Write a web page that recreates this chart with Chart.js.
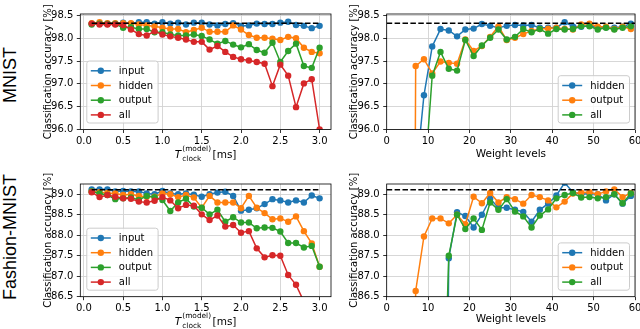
<!DOCTYPE html>
<html>
<head>
<meta charset="utf-8">
<script src="https://cdn.jsdelivr.net/npm/chart.js@4"></script>
<style>
html, body { margin: 0; padding: 0; background: #fff; }
#fig { position: relative; width: 640px; height: 329px; overflow: hidden; background: #fff; }
canvas { position: absolute; }
.row { position: absolute; font-family: "Liberation Sans", Arial, sans-serif; font-size: 18px;
       white-space: nowrap; transform: translate(-50%, -50%) rotate(-90deg); color: #000; }
</style>
</head>
<body>
<div id="fig">
  <div class="row" style="left:10px; top:75px">MNIST</div>
  <div class="row" style="left:10px; top:236.5px">Fashion-MNIST</div>
  <canvas id="mnist-clock" width="302" height="164" style="left:38px; top:0px"></canvas>
  <canvas id="mnist-levels" width="310" height="164" style="left:340px; top:0px"></canvas>
  <canvas id="fashion-clock" width="302" height="165" style="left:38px; top:164px"></canvas>
  <canvas id="fashion-levels" width="310" height="165" style="left:340px; top:164px"></canvas>
</div>
<script>
// ---------------------------------------------------------------------------
// Data
// ---------------------------------------------------------------------------

const clockTimes = [0.1, 0.2, 0.3, 0.4, 0.5, 0.6, 0.7, 0.8, 0.9, 1.0,
                    1.1, 1.2, 1.3, 1.4, 1.5, 1.6, 1.7, 1.8, 1.9, 2.0,
                    2.1, 2.2, 2.3, 2.4, 2.5, 2.6, 2.7, 2.8, 2.9, 3.0];
const weightLevels = [5, 7, 9, 11, 13, 15, 17, 19, 21, 23, 25, 27, 29, 31,
                      33, 35, 37, 39, 41, 43, 45, 47, 49, 51, 53, 55, 57, 59];

const clockTicks = [0.0, 0.5, 1.0, 1.5, 2.0, 2.5, 3.0];
const levelTicks = [0, 10, 20, 30, 40, 50, 60];
const mnistTicks = [96.0, 96.5, 97.0, 97.5, 98.0, 98.5];
const fashionTicks = [86.5, 87.0, 87.5, 88.0, 88.5, 89.0];

// reference accuracy (dashed line) and its extent
const mnistBaseline = 98.33;
const fashionBaseline = 89.11;
const clockBaselineX = [0.1, 3.0];
const levelBaselineX = [0, 60];

// MNIST vs clock period
const mnistClockInput = [98.32, 98.32, 98.32, 98.32, 98.34, 98.32, 98.35, 98.35, 98.32, 98.35,
                         98.32, 98.34, 98.30, 98.34, 98.34, 98.30, 98.28, 98.31, 98.33, 98.27,
                         98.28, 98.32, 98.31, 98.31, 98.34, 98.36, 98.29, 98.27, 98.22, 98.27];
const mnistClockHidden = [98.33, 98.35, 98.33, 98.33, 98.33, 98.33, 98.30, 98.28, 98.26, 98.23,
                          98.20, 98.20, 98.13, 98.18, 98.23, 98.14, 98.14, 98.14, 98.28, 98.19,
                          98.07, 98.01, 98.01, 97.99, 97.96, 98.03, 98.00, 97.79, 97.70, 97.67];
const mnistClockOutput = [98.30, 98.32, 98.31, 98.31, 98.23, 98.24, 98.20, 98.20, 98.13, 98.13,
                          98.08, 98.06, 98.06, 98.08, 98.05, 97.97, 97.88, 97.94, 97.86, 97.80,
                          97.87, 97.74, 97.68, 97.90, 97.48, 97.72, 97.88, 97.39, 97.35, 97.79];
const mnistClockAll = [98.32, 98.30, 98.30, 98.30, 98.29, 98.19, 98.09, 98.06, 98.15, 98.08,
                       98.04, 98.01, 97.97, 97.92, 97.92, 97.75, 97.83, 97.70, 97.59, 97.54,
                       97.51, 97.48, 97.44, 96.95, 97.42, 97.18, 96.49, 97.01, 97.10, 96.00];

// MNIST vs weight levels
const mnistLevelHidden = [null, 94.9, 96.75, 97.82, 98.20, 98.17, 98.04, 98.19, 98.21, 98.31,
                          98.27, 98.23, 98.27, 98.29, 98.28, 98.29, 98.23, 98.23, 98.23, 98.35,
                          98.26, 98.25, 98.28, 98.23, 98.24, 98.23, 98.25, 98.32];
const mnistLevelOutput = [60.0, 97.39, 97.54, 97.23, 97.49, 97.46, 97.44, 97.97, 97.72, 97.83,
                          98.03, 98.26, 97.96, 98.01, 98.09, 98.16, 98.20, 98.21, 98.23, 98.20,
                          98.19, 98.30, 98.32, 98.25, 98.25, 98.20, 98.25, 98.20];
const mnistLevelAll = [null, null, 94.7, 97.18, 97.70, 97.33, 97.29, 97.96, 97.61, 97.84,
                       98.01, 98.19, 97.97, 98.03, 98.20, 98.13, 98.20, 98.10, 98.20, 98.19,
                       98.20, 98.26, 98.26, 98.19, 98.23, 98.19, 98.23, 98.26];

// Fashion-MNIST vs clock period
const fashionClockInput = [89.12, 89.12, 89.12, 89.07, 89.08, 89.07, 89.07, 89.02, 89.00, 89.08,
                           89.02, 89.00, 89.02, 88.99, 88.94, 89.00, 89.04, 89.06, 88.96, 88.60,
                           88.62, 88.66, 88.76, 88.88, 88.85, 88.80, 88.85, 88.80, 88.97, 88.90];
const fashionClockHidden = [89.07, 89.05, 89.03, 89.02, 88.98, 89.00, 88.96, 88.94, 88.94, 89.02,
                            89.00, 88.93, 88.98, 88.92, 88.67, 88.96, 88.80, 88.80, 88.80, 88.66,
                            88.96, 88.67, 88.54, 88.39, 88.41, 88.33, 88.46, 88.10, 87.80, 87.23];
const fashionClockOutput = [89.07, 89.02, 88.98, 88.88, 88.90, 88.92, 88.86, 88.96, 88.93, 88.86,
                            88.59, 88.80, 88.89, 88.70, 88.67, 88.51, 88.62, 88.33, 88.44, 88.31,
                            88.31, 88.17, 88.19, 88.18, 88.09, 87.81, 87.81, 87.70, 87.74, 87.23];
const fashionClockAll = [89.05, 88.93, 88.98, 88.94, 88.90, 88.89, 88.82, 88.80, 88.84, 88.93,
                         88.85, 88.66, 88.74, 88.72, 88.51, 88.37, 88.48, 88.21, 88.25, 88.06,
                         88.10, 87.68, 87.46, 87.51, 87.50, 87.03, 86.79, 86.38, null, null];

// Fashion-MNIST vs weight levels
const fashionLevelHidden = [null, null, null, null, 68.0, 87.44, 88.56, 88.47, 88.19, 88.50,
                            88.89, 88.67, 88.67, 88.62, 88.57, 88.33, 88.62, 88.77, 88.97, 89.28,
                            89.05, 89.00, 89.02, 89.00, 88.85, 89.00, 88.77, 88.96];
const fashionLevelOutput = [70.0, 86.64, 87.97, 88.41, 88.41, 88.29, 88.50, 88.27, 88.94, 88.78,
                            89.03, 88.80, 88.93, 88.88, 88.77, 88.98, 88.93, 88.85, 88.68, 88.82,
                            89.02, 89.04, 89.05, 89.00, 89.07, 89.12, 88.93, 89.03];
const fashionLevelAll = [null, null, null, null, 80.8, 87.50, 88.50, 88.15, 88.41, 88.13,
                         88.80, 88.62, 88.88, 88.58, 88.46, 88.19, 88.48, 88.63, 88.90, 88.98,
                         89.03, 88.92, 88.93, 88.90, 88.93, 89.00, 88.78, 89.02];

// ---------------------------------------------------------------------------
// Styling helpers
// ---------------------------------------------------------------------------

Chart.defaults.font.family = "'DejaVu Sans', sans-serif";
Chart.defaults.font.size = 10;
Chart.defaults.color = '#000';
Chart.defaults.animation = false;

const C_BLUE = '#1f77b4', C_ORANGE = '#ff7f0e', C_GREEN = '#2ca02c', C_RED = '#d62728';
const GRID = '#d2d2d2';

function series(label, color, xs, ys, order) {
    return {
        label,
        data: xs.map((x, i) => ({ x, y: ys[i] })),
        borderColor: color, backgroundColor: color,
        borderWidth: 1.5, pointRadius: 3.2, pointBorderWidth: 0, pointHoverRadius: 3.2,
        tension: 0, clip: 0, order,
    };
}

function baseline(xs, value) {
    return {
        label: 'baseline', inLegend: false,
        data: xs.map(x => ({ x, y: value })),
        borderColor: '#000', borderWidth: 1.5, borderDash: [5.5, 2.4],
        pointRadius: 0, tension: 0, clip: 0, order: 0,
    };
}

// draws the legend box inside the plot, matplotlib style
function drawLegend(chart, corner) {
    const ctx = chart.ctx, a = chart.chartArea;
    const items = chart.data.datasets.filter(d => d.inLegend !== false);
    ctx.save();
    ctx.font = "10px 'DejaVu Sans'";
    const textW = Math.max(...items.map(d => ctx.measureText(d.label).width));
    const rowH = 14.7;
    const w = 32 + textW + 5, h = items.length * rowH + 3.2;
    const left = corner === 'll' ? a.left + 6.5 : a.right - 5.5 - w;
    const top = a.bottom - 6.5 - h;
    ctx.beginPath();
    ctx.roundRect(left, top, w, h, 2.5);
    ctx.fillStyle = 'rgba(255,255,255,0.8)';
    ctx.fill();
    ctx.strokeStyle = '#cccccc';
    ctx.lineWidth = 1;
    ctx.stroke();
    items.forEach((d, i) => {
        const y = top + 9.8 + i * rowH;
        ctx.strokeStyle = d.borderColor;
        ctx.lineWidth = 1.5;
        ctx.beginPath(); ctx.moveTo(left + 4, y); ctx.lineTo(left + 24, y); ctx.stroke();
        ctx.fillStyle = d.borderColor;
        ctx.beginPath(); ctx.arc(left + 14, y, 3.2, 0, 2 * Math.PI); ctx.fill();
        ctx.fillStyle = '#000';
        ctx.textBaseline = 'middle';
        ctx.textAlign = 'left';
        ctx.fillText(d.label, left + 32, y + 0.5);
    });
    ctx.restore();
}

// x label "T_clock^(model) [ms]" with sub/superscript
function drawClockLabel(chart) {
    const ctx = chart.ctx, a = chart.chartArea;
    const cx = (a.left + a.right) / 2, base = a.bottom + 28;
    const big = "10.5px 'DejaVu Sans'", ital = "oblique 10.5px 'DejaVu Sans'", small = "7.4px 'DejaVu Sans'";
    ctx.save();
    ctx.fillStyle = '#000';
    ctx.textBaseline = 'alphabetic';
    ctx.textAlign = 'left';
    ctx.font = ital; const wT = ctx.measureText('T').width;
    ctx.font = small; const wS = Math.max(ctx.measureText('(model)').width, ctx.measureText('clock').width);
    ctx.font = big; const wU = ctx.measureText('[ms]').width;
    let x = cx - (wT + 1 + wS + 1.5 + wU) / 2;
    ctx.font = ital; ctx.fillText('T', x, base); x += wT + 1;
    ctx.font = small;
    ctx.fillText('(model)', x, base - 7);
    ctx.fillText('clock', x, base + 3);
    x += wS + 1.5;
    ctx.font = big; ctx.fillText('[ms]', x, base);
    ctx.restore();
}

const axesPlugin = {
    id: 'axesDeco',
    afterDatasetsDraw(chart) {
        const a = chart.chartArea, ctx = chart.ctx;
        ctx.save();
        ctx.strokeStyle = '#000';
        ctx.lineWidth = 0.8;
        ctx.strokeRect(a.left, a.top, a.right - a.left, a.bottom - a.top);
        ctx.restore();
    },
    afterDraw(chart, args, opts) {
        drawLegend(chart, opts.legend);
        if (opts.clockLabel) drawClockLabel(chart);
    }
};

function makeChart(id, cfg) {
    const fmt1 = v => v.toFixed(1);
    return new Chart(document.getElementById(id), {
        type: 'line',
        data: { datasets: cfg.datasets },
        plugins: [axesPlugin],
        options: {
            responsive: false,
            animation: false,
            events: [],
            layout: { padding: { top: cfg.top, right: cfg.right, left: 0, bottom: 0 } },
            plugins: {
                legend: { display: false },
                tooltip: { enabled: false },
                axesDeco: { legend: cfg.legend, clockLabel: cfg.clockLabel },
            },
            scales: {
                x: {
                    type: 'linear', min: cfg.xMin, max: cfg.xMax,
                    afterBuildTicks: s => { s.ticks = cfg.xTicks.map(v => ({ value: v })); },
                    afterFit: s => { s.height = cfg.xAxisH; },
                    ticks: { callback: cfg.xFmt, padding: 2, maxRotation: 0, autoSkip: false, color: '#000' },
                    grid: { color: GRID, lineWidth: 0.9, tickColor: '#000', tickLength: 3.5, tickWidth: 0.8 },
                    border: { display: false },
                    title: cfg.xTitle
                        ? { display: true, text: cfg.xTitle, font: { size: 10.5 }, padding: { top: 0, bottom: 3.5 } }
                        : { display: false },
                },
                y: {
                    type: 'linear', min: cfg.yMin, max: cfg.yMax,
                    afterBuildTicks: s => { s.ticks = cfg.yTicks.map(v => ({ value: v })); },
                    afterFit: s => { s.width = cfg.yAxisW; },
                    ticks: { callback: fmt1, padding: 3.5, autoSkip: false, color: '#000' },
                    grid: { color: GRID, lineWidth: 0.9, tickColor: '#000', tickLength: 3.5, tickWidth: 0.8 },
                    border: { display: false },
                    title: { display: true, text: 'Classification accuracy [%]', font: { size: 10 },
                             padding: { top: cfg.yTitlePad, bottom: 0 } },
                },
            },
        },
    });
}

// ---------------------------------------------------------------------------
// The four panels
// ---------------------------------------------------------------------------

const clockAxis = { xMin: -0.045, xMax: 3.145, xTicks: clockTicks, xFmt: v => v.toFixed(1),
                    yAxisW: 42.3, right: 9, legend: 'll', clockLabel: true, yTitlePad: 4 };
const levelAxis = { xMin: 0, xMax: 60, xTicks: levelTicks, xFmt: v => String(v),
                    yAxisW: 46.7, right: 15, legend: 'lr', xTitle: 'Weight levels', yTitlePad: 8 };

makeChart('mnist-clock', {
    ...clockAxis, top: 14, xAxisH: 34.5, yMin: 96.0, yMax: 98.53, yTicks: mnistTicks,
    datasets: [
        series('input', C_BLUE, clockTimes, mnistClockInput, 4),
        series('hidden', C_ORANGE, clockTimes, mnistClockHidden, 3),
        series('output', C_GREEN, clockTimes, mnistClockOutput, 2),
        series('all', C_RED, clockTimes, mnistClockAll, 1),
        baseline(clockBaselineX, mnistBaseline),
    ],
});

makeChart('mnist-levels', {
    ...levelAxis, top: 14, xAxisH: 34.5, yMin: 96.0, yMax: 98.53, yTicks: mnistTicks,
    datasets: [
        series('hidden', C_BLUE, weightLevels, mnistLevelHidden, 3),
        series('output', C_ORANGE, weightLevels, mnistLevelOutput, 2),
        series('all', C_GREEN, weightLevels, mnistLevelAll, 1),
        baseline(levelBaselineX, mnistBaseline),
    ],
});

makeChart('fashion-clock', {
    ...clockAxis, top: 20, xAxisH: 32.3, yMin: 86.5, yMax: 89.25, yTicks: fashionTicks,
    datasets: [
        series('input', C_BLUE, clockTimes, fashionClockInput, 4),
        series('hidden', C_ORANGE, clockTimes, fashionClockHidden, 3),
        series('output', C_GREEN, clockTimes, fashionClockOutput, 2),
        series('all', C_RED, clockTimes, fashionClockAll, 1),
        baseline(clockBaselineX, fashionBaseline),
    ],
});

makeChart('fashion-levels', {
    ...levelAxis, top: 20, xAxisH: 32.3, yMin: 86.5, yMax: 89.25, yTicks: fashionTicks,
    datasets: [
        series('hidden', C_BLUE, weightLevels, fashionLevelHidden, 3),
        series('output', C_ORANGE, weightLevels, fashionLevelOutput, 2),
        series('all', C_GREEN, weightLevels, fashionLevelAll, 1),
        baseline(levelBaselineX, fashionBaseline),
    ],
});
</script>
</body>
</html>
